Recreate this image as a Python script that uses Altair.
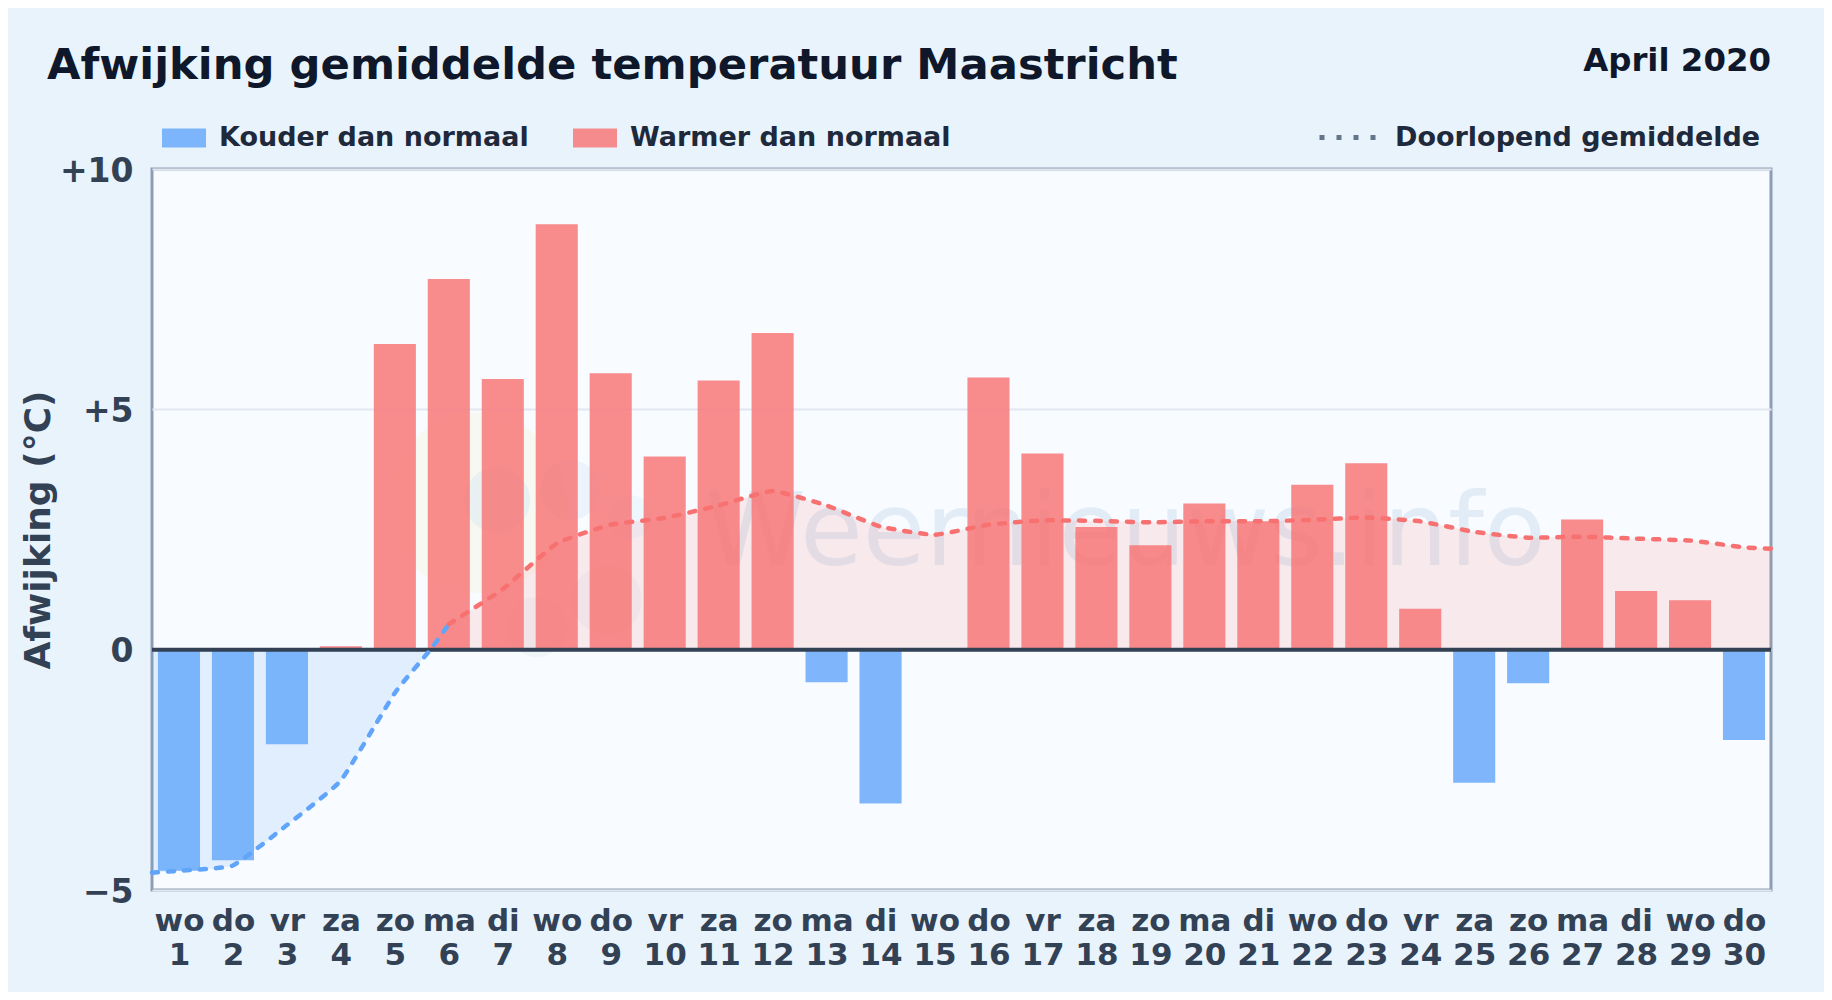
import json
import altair as alt
import pandas as pd

days = list(range(1, 31))
weekdays = ["wo","do","vr","za","zo","ma","di","wo","do","vr","za","zo","ma","di","wo",
            "do","vr","za","zo","ma","di","wo","do","vr","za","zo","ma","di","wo","do"]
values = [-4.60,-4.38,-1.97,0.07,6.36,7.71,5.63,8.85,5.75,4.02,5.60,6.59,-0.68,-3.20,0.0,
          5.66,4.08,2.55,2.17,3.04,2.67,3.43,3.88,0.85,-2.77,-0.70,2.71,1.22,1.03,-1.88]
mean_days_cold = [0.5,1,2,3,4,5,5.66,6]
mean_cold = [-4.64,-4.60,-4.49,-3.65,-2.72,-0.90,0.0,0.53]
mean_days_warm = [6,7,8,9,10,11,12,13,14,15,16,17,18,19,20,21,22,23,24,25,26,27,28,29,30,30.5]
mean_warm = [0.53,1.26,2.21,2.60,2.74,3.00,3.30,3.00,2.56,2.39,2.60,2.69,2.68,2.65,2.67,2.67,
             2.70,2.75,2.67,2.45,2.33,2.35,2.31,2.27,2.13,2.10]
area_days_cold = mean_days_cold[:-1]
area_cold = mean_cold[:-1]
area_days_warm = [5.66] + mean_days_warm
area_warm = [0.0] + mean_warm
COLD, WARM = "Kouder dan normaal", "Warmer dan normaal"
RUN = "Doorlopend gemiddelde"
TITLE = "Afwijking gemiddelde temperatuur Maastricht"
PERIOD = "April 2020"

FONT = "DejaVu Sans"
bars = pd.DataFrame({"day": days, "value": values,
                     "kind": [COLD if v < 0 else WARM for v in values]})
xs = alt.Scale(domain=[0.5, 30.5], nice=False, zero=False)
ys = alt.Scale(domain=[-5, 10], nice=False, zero=False)
x_axis = alt.Axis(values=days, title=None, grid=False, domain=False, ticks=False,
                  labelExpr=f"[{json.dumps(weekdays)}[datum.value-1], datum.label]",
                  labelFontSize=31, labelFontWeight="bold", labelColor="#334155",
                  labelFont=FONT, labelOverlap=False, labelFlush=False, labelBound=False,
                  labelPadding=16, labelLineHeight=34, labelAngle=0, labelBaseline="top")
y_axis = alt.Axis(values=[-5, 0, 5, 10], title="Afwijking (°C)", domain=False, ticks=False,
                  grid=True, gridColor="#e2e8f0", gridWidth=2,
                  labelExpr="datum.value>0?'+'+datum.value:datum.value<0?'\u2212'+abs(datum.value):'0'",
                  labelFontSize=33, labelFontWeight="bold", labelColor="#334155", labelFont=FONT,
                  labelPadding=19, labelOverlap=False, labelFlush=False, labelBound=False, labelOffset=2,
                  titleFontSize=36, titleFontWeight="bold", titleColor="#334155", titleFont=FONT,
                  titlePadding=2)

def blob(px, py, r, color, op):
    return alt.Chart(pd.DataFrame({"k": [1]})).mark_point(
        shape="circle", filled=True, color=color, opacity=op, size=(2 * r) ** 2
    ).encode(x=alt.value(px), y=alt.value(py))

logo = [blob(325, 334, 90, "#fde68a", 0.10), blob(345, 331, 33, "#7dbbf0", 0.12),
        blob(418, 321, 30, "#7dbbf0", 0.10), blob(478, 348, 22, "#7dbbf0", 0.08),
        blob(455, 431, 35, "#94a3b8", 0.08), blob(385, 458, 30, "#94a3b8", 0.07)]

watermark = alt.Chart(pd.DataFrame({"t": ["Weernieuws.info"]})).mark_text(
    font=FONT, fontSize=102, color="#8fb2d6", opacity=0.2, align="left", baseline="alphabetic"
).encode(x=alt.value(553), y=alt.value(396), text="t:N")

def area(d, v, color, op):
    return alt.Chart(pd.DataFrame({"d": d, "v": v})).mark_area(
        color=color, opacity=op, interpolate="cardinal", tension=0.6, clip=True
    ).encode(x=alt.X("d:Q", scale=xs, axis=x_axis), y=alt.Y("v:Q", scale=ys, axis=y_axis), y2=alt.datum(0))

def line(d, v, color):
    return alt.Chart(pd.DataFrame({"d": d, "v": v})).mark_line(
        color=color, strokeWidth=4.5, strokeDash=[6, 10], strokeCap="round",
        interpolate="cardinal", tension=0.6
    ).encode(x=alt.X("d:Q", scale=xs), y=alt.Y("v:Q", scale=ys))

bar_layer = alt.Chart(bars).transform_calculate(
    x0="datum.day-0.39", x1="datum.day+0.39"
).mark_bar(opacity=0.8).encode(
    x=alt.X("x0:Q", scale=xs),
    x2="x1:Q",
    y=alt.Y("value:Q", scale=ys),
    y2=alt.datum(0),
    color=alt.Color("kind:N", scale=alt.Scale(domain=[COLD, WARM], range=["#60a5fa", "#f87171"]),
                    legend=alt.Legend(title=None, orient="none", legendX=10, legendY=-53,
                                      direction="horizontal", columns=2, columnPadding=44,
                                      symbolType="M-1,-0.43H1V0.43H-1Z", symbolSize=1936,
                                      symbolOpacity=0.8, symbolStrokeWidth=0,
                                      labelFontSize=27, labelFontWeight="bold", labelColor="#1e293b",
                                      labelFont=FONT, labelOffset=13, labelLimit=600, padding=0)),
)

zero = alt.Chart(pd.DataFrame({"y": [0]})).mark_rule(color="#334155", strokeWidth=4).encode(
    y=alt.Y("y:Q", scale=ys))

legend_key = alt.Chart(pd.DataFrame({"d": [15], "v": [0], "s": [RUN]})).mark_line().encode(
    x=alt.X("d:Q", scale=xs), y=alt.Y("v:Q", scale=ys),
    strokeDash=alt.StrokeDash("s:N", scale=alt.Scale(domain=[RUN], range=[[5, 12]]),
                              legend=alt.Legend(title=None, orient="none", legendX=1165, legendY=-62,
                                                symbolType="stroke", symbolSize=3136,
                                                symbolStrokeColor="#64748b", symbolStrokeWidth=5,
                                                labelFontSize=27, labelFontWeight="bold",
                                                labelColor="#1e293b", labelFont=FONT, labelOffset=17,
                                                labelLimit=600, padding=0)),
)

period = alt.Chart(pd.DataFrame({"t": [PERIOD]})).mark_text(
    font=FONT, fontSize=32.4, fontWeight="bold", color="#0f172a", align="right", baseline="alphabetic"
).encode(x=alt.value(1619), y=alt.value(-98), text="t:N")

heading = alt.Chart(pd.DataFrame({"t": [TITLE]})).mark_text(
    font=FONT, fontSize=43.3, fontWeight="bold", color="#0f172a", align="left", baseline="alphabetic"
).encode(x=alt.value(-105), y=alt.value(-90), text="t:N")

chart = alt.layer(
    *logo, watermark,
    area(area_days_cold, area_cold, "#60a5fa", 0.15),
    area(area_days_warm, area_warm, "#f87171", 0.13),
    bar_layer, zero,
    line(mean_days_cold, mean_cold, "#60a5fa"),
    line(mean_days_warm, mean_warm, "#f87171"),
    legend_key, period, heading,
).resolve_scale(color="independent", strokeDash="independent").properties(
    width=1619, height=721,
    autosize=alt.AutoSizeParams(type="none"),
    padding={"left": 144, "top": 161, "right": 53, "bottom": 102},
    background="#e8f3fc",
).configure_view(fill="#f8fbff", stroke="#8e9db3", strokeWidth=3)

chart.save("out.html", embed_options={"renderer": "svg", "actions": False})
